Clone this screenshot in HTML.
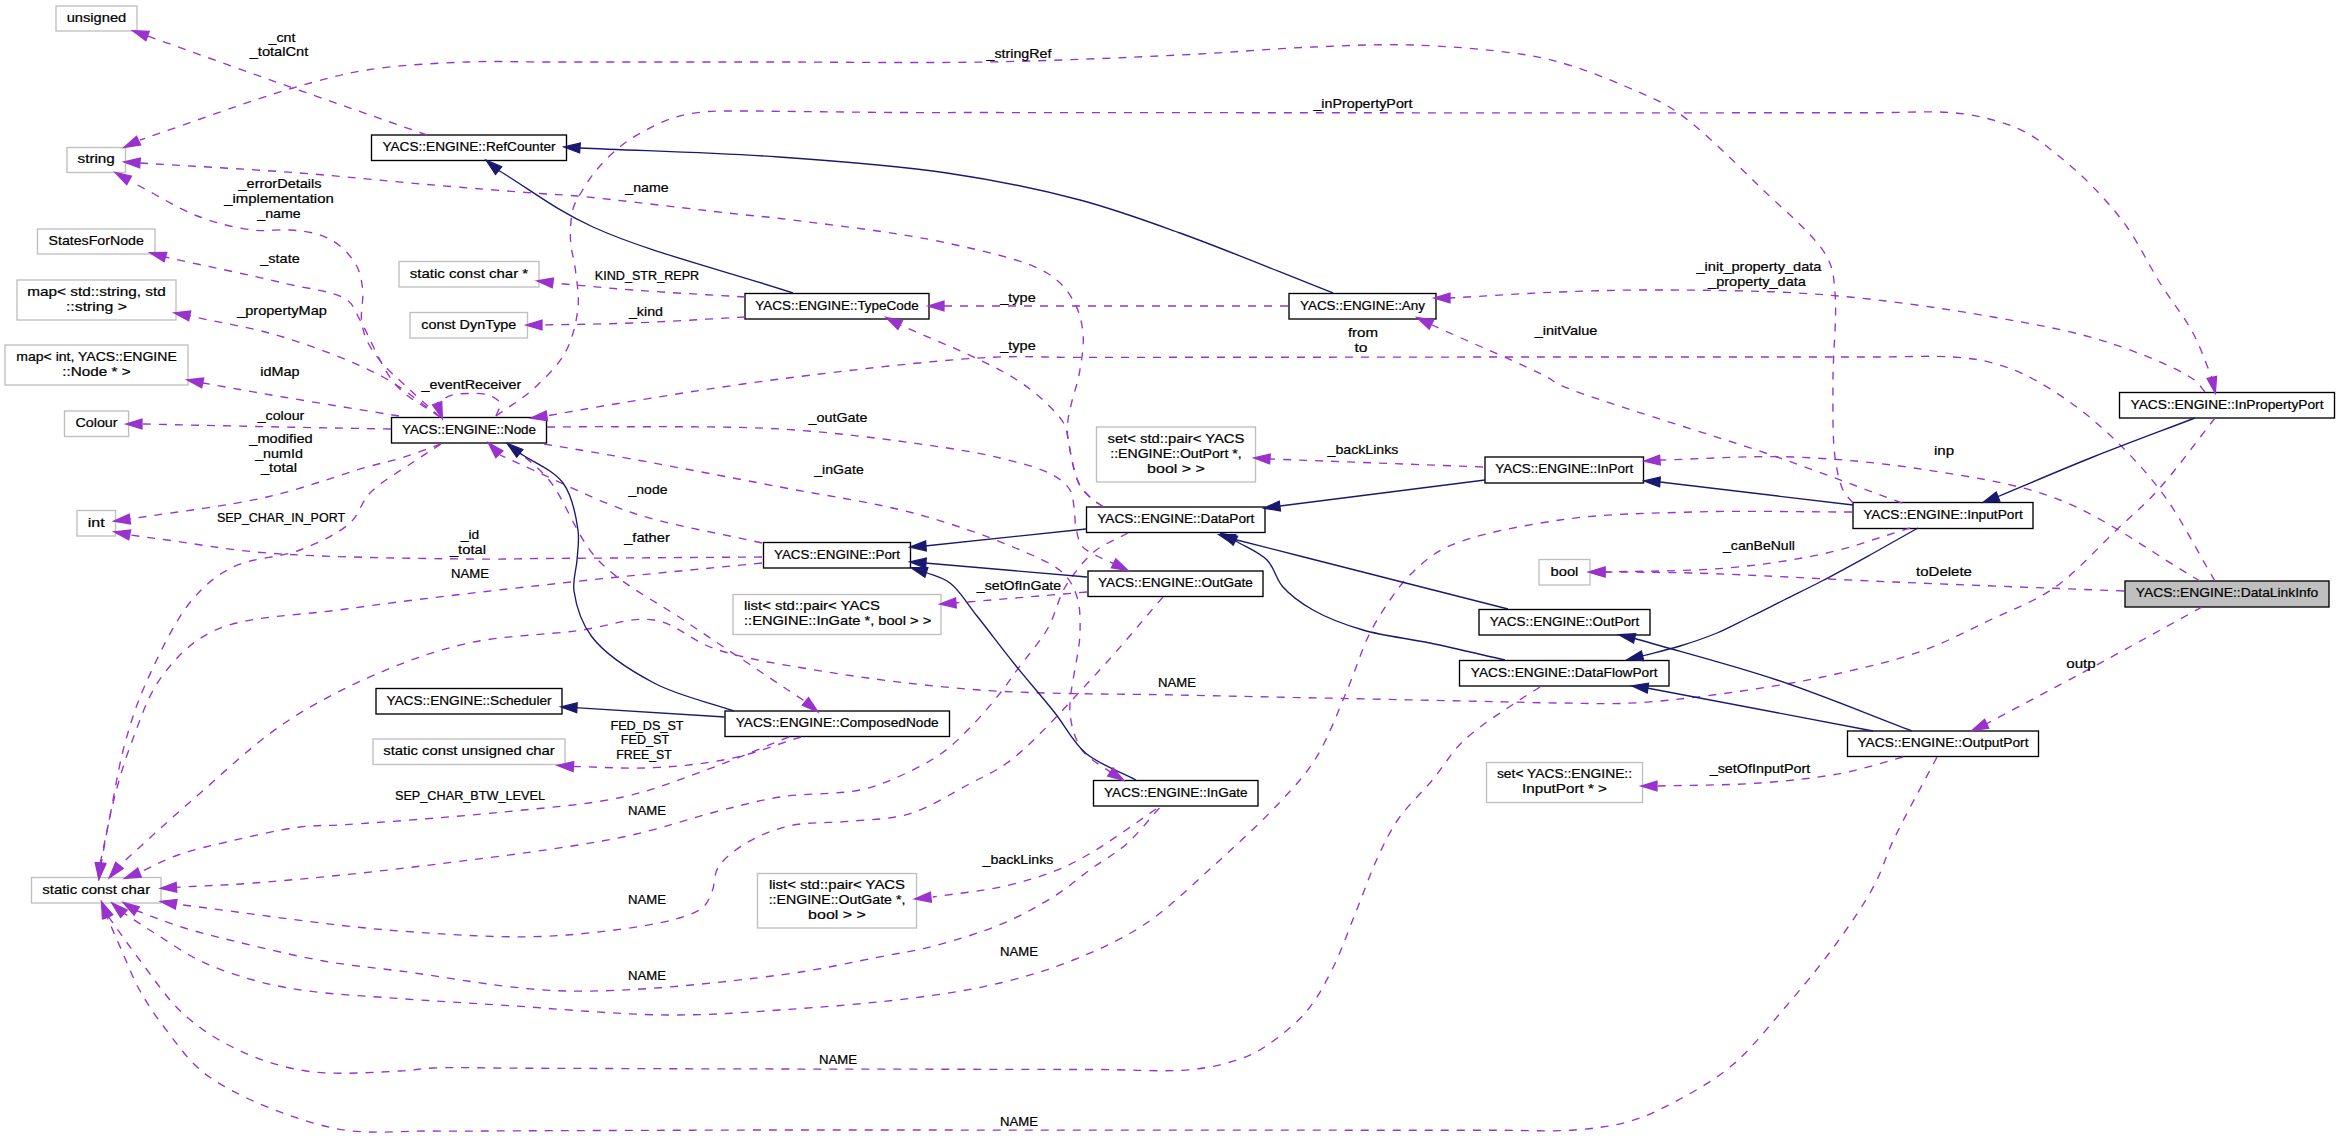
<!DOCTYPE html><html><head><meta charset="utf-8"><style>html,body{margin:0;padding:0;background:#fff;width:2340px;height:1138px;overflow:hidden}svg{display:block}text{font-family:"Liberation Sans",sans-serif;font-size:13.6px;fill:#000;stroke:#000;stroke-width:0.22px}</style></head><body>
<svg width="2340" height="1138" viewBox="0 0 2340 1138">
<rect width="2340" height="1138" fill="#fff"/>
<rect x="56.0" y="6.0" width="81.0" height="25.0" fill="#fff" stroke="#bfbfbf" stroke-width="1.35"/>
<rect x="67.0" y="147.5" width="58.5" height="25.0" fill="#fff" stroke="#bfbfbf" stroke-width="1.35"/>
<rect x="37.5" y="229.0" width="117.5" height="25.0" fill="#fff" stroke="#bfbfbf" stroke-width="1.35"/>
<rect x="399.0" y="261.5" width="140.0" height="25.5" fill="#fff" stroke="#bfbfbf" stroke-width="1.35"/>
<rect x="17.0" y="280.0" width="159.0" height="40.0" fill="#fff" stroke="#bfbfbf" stroke-width="1.35"/>
<rect x="410.0" y="312.5" width="117.5" height="25.5" fill="#fff" stroke="#bfbfbf" stroke-width="1.35"/>
<rect x="5.0" y="345.0" width="183.0" height="40.0" fill="#fff" stroke="#bfbfbf" stroke-width="1.35"/>
<rect x="64.5" y="411.0" width="64.1" height="25.5" fill="#fff" stroke="#bfbfbf" stroke-width="1.35"/>
<rect x="77.0" y="510.5" width="38.5" height="25.5" fill="#fff" stroke="#bfbfbf" stroke-width="1.35"/>
<rect x="1096.5" y="427.0" width="159.0" height="55.0" fill="#fff" stroke="#bfbfbf" stroke-width="1.35"/>
<rect x="1539.0" y="559.5" width="51.0" height="25.5" fill="#fff" stroke="#bfbfbf" stroke-width="1.35"/>
<rect x="733.0" y="594.5" width="208.0" height="40.0" fill="#fff" stroke="#bfbfbf" stroke-width="1.35"/>
<rect x="373.0" y="739.0" width="192.0" height="25.5" fill="#fff" stroke="#bfbfbf" stroke-width="1.35"/>
<rect x="31.5" y="877.5" width="129.5" height="25.5" fill="#fff" stroke="#bfbfbf" stroke-width="1.35"/>
<rect x="757.5" y="873.5" width="159.0" height="54.5" fill="#fff" stroke="#bfbfbf" stroke-width="1.35"/>
<rect x="1486.5" y="762.5" width="156.0" height="40.0" fill="#fff" stroke="#bfbfbf" stroke-width="1.35"/>
<rect x="371.5" y="135.0" width="195.0" height="25.5" fill="#fff" stroke="#000" stroke-width="1.35"/>
<rect x="745.0" y="293.5" width="184.0" height="25.5" fill="#fff" stroke="#000" stroke-width="1.35"/>
<rect x="391.5" y="417.5" width="155.0" height="25.5" fill="#fff" stroke="#000" stroke-width="1.35"/>
<rect x="763.5" y="542.5" width="147.0" height="25.5" fill="#fff" stroke="#000" stroke-width="1.35"/>
<rect x="1289.0" y="293.5" width="147.0" height="25.5" fill="#fff" stroke="#000" stroke-width="1.35"/>
<rect x="2119.5" y="392.5" width="215.0" height="25.5" fill="#fff" stroke="#000" stroke-width="1.35"/>
<rect x="1485.0" y="457.0" width="158.5" height="26.0" fill="#fff" stroke="#000" stroke-width="1.35"/>
<rect x="1086.5" y="507.0" width="178.5" height="25.5" fill="#fff" stroke="#000" stroke-width="1.35"/>
<rect x="1853.0" y="502.5" width="180.0" height="26.0" fill="#fff" stroke="#000" stroke-width="1.35"/>
<rect x="1088.0" y="571.0" width="175.0" height="25.5" fill="#fff" stroke="#000" stroke-width="1.35"/>
<rect x="376.0" y="688.5" width="186.0" height="25.5" fill="#fff" stroke="#000" stroke-width="1.35"/>
<rect x="725.0" y="711.0" width="224.5" height="25.5" fill="#fff" stroke="#000" stroke-width="1.35"/>
<rect x="1093.5" y="780.5" width="164.5" height="25.5" fill="#fff" stroke="#000" stroke-width="1.35"/>
<rect x="1479.0" y="609.5" width="171.0" height="25.5" fill="#fff" stroke="#000" stroke-width="1.35"/>
<rect x="1459.5" y="660.5" width="209.5" height="25.5" fill="#fff" stroke="#000" stroke-width="1.35"/>
<rect x="1847.5" y="731.0" width="191.0" height="25.5" fill="#fff" stroke="#000" stroke-width="1.35"/>
<rect x="2125.0" y="581.0" width="204.0" height="26.0" fill="#bfbfbf" stroke="#000" stroke-width="1.35"/>
<g fill="none" stroke-width="1.35">
<path d="M427.0,135.0 C382.3,119.3 338.6,104.1 293.0,88.0 C245.5,71.2 196.0,53.3 147.5,36.0" stroke="#9a32cd" stroke-dasharray="8,8"/>
<path d="M1853.0,503.0 C1849.7,498.7 1845.7,495.7 1843.0,490.0 C1839.1,481.8 1836.8,470.4 1835.0,457.0 C1832.3,436.8 1833.0,406.5 1833.0,380.0 C1833.0,351.9 1837.2,315.6 1835.0,293.0 C1833.6,278.3 1833.9,269.9 1827.0,257.0 C1815.8,236.1 1784.0,210.3 1760.0,187.0 C1734.2,162.0 1702.3,129.3 1677.0,112.0 C1659.1,99.8 1645.2,94.9 1627.0,87.0 C1606.3,78.1 1579.7,67.8 1559.0,62.0 C1542.4,57.3 1531.4,55.5 1513.0,53.0 C1486.1,49.3 1446.4,46.0 1413.0,45.0 C1379.7,44.0 1348.7,45.6 1313.0,47.0 C1271.8,48.7 1228.5,52.7 1180.0,55.0 C1121.7,57.8 1052.5,60.8 987.0,62.0 C919.0,63.2 831.7,62.0 779.0,62.0 C746.7,62.0 727.0,62.0 701.0,62.0 C675.0,62.0 649.0,62.0 623.0,62.0 C597.0,62.0 571.0,62.0 545.0,62.0 C519.0,62.0 494.6,60.9 467.0,62.0 C435.7,63.2 397.6,65.1 367.0,70.0 C340.3,74.3 321.9,79.6 293.0,88.0 C250.9,100.2 191.0,122.7 140.0,140.0" stroke="#9a32cd" stroke-dasharray="8,8"/>
<path d="M1103.0,506.6 C1099.0,503.7 1094.7,501.4 1091.0,498.0 C1087.0,494.4 1082.8,490.3 1080.0,485.5 C1077.1,480.6 1075.6,474.8 1074.0,469.0 C1072.3,462.9 1071.1,456.0 1070.0,450.0 C1069.0,444.7 1067.8,440.0 1067.5,435.0 C1067.2,430.0 1067.4,425.3 1068.0,420.0 C1068.7,414.0 1070.4,407.8 1072.0,401.0 C1073.9,393.0 1077.2,384.8 1079.0,375.0 C1081.2,362.8 1084.3,346.0 1083.0,333.0 C1081.8,321.2 1078.8,309.8 1073.0,300.0 C1067.0,289.7 1059.9,280.9 1047.0,273.0 C1025.5,259.9 984.9,251.4 947.0,243.0 C898.8,232.3 816.6,223.1 780.0,218.5 C762.1,216.3 757.8,216.3 740.0,214.4 C704.0,210.5 612.1,199.2 577.0,196.0 C560.3,194.5 555.7,194.7 540.0,193.5 C512.2,191.5 463.7,187.6 424.5,184.3 C383.8,180.8 344.1,176.4 300.0,173.0 C250.0,169.2 193.3,166.3 140.0,163.0" stroke="#9a32cd" stroke-dasharray="8,8"/>
<path d="M440.0,417.0 C428.6,406.7 416.2,395.8 405.8,386.0 C396.8,377.5 387.8,370.0 381.0,361.7 C375.0,354.4 369.7,346.9 366.4,339.5 C363.6,333.0 362.3,327.3 361.5,320.0 C360.6,311.1 363.7,299.4 362.7,290.0 C361.8,281.4 360.5,273.3 356.6,265.8 C352.3,257.7 344.2,249.0 337.0,243.6 C330.8,238.9 324.4,236.3 317.0,234.0 C308.8,231.5 299.7,230.7 290.0,230.0 C278.7,229.2 266.3,231.6 253.0,230.0 C236.8,228.0 218.3,223.9 200.0,217.0 C178.3,208.9 154.7,193.7 132.0,182.0" stroke="#9a32cd" stroke-dasharray="8,8"/>
<path d="M440.0,417.0 C425.3,406.3 408.6,399.3 396.0,385.0 C381.2,368.3 369.2,335.3 360.0,320.0 C354.8,311.3 354.5,305.4 347.0,300.0 C334.5,290.9 307.6,289.0 283.0,283.0 C249.7,274.9 204.3,265.7 165.0,257.0" stroke="#9a32cd" stroke-dasharray="8,8"/>
<path d="M745.0,297.0 C707.7,294.7 667.2,292.6 633.0,290.0 C604.1,287.8 579.7,285.3 553.0,283.0" stroke="#9a32cd" stroke-dasharray="8,8"/>
<path d="M440.0,417.0 C421.0,403.7 405.5,389.2 383.0,377.0 C355.0,361.9 316.1,347.3 283.0,337.0 C251.8,327.3 221.0,323.0 190.0,316.0" stroke="#9a32cd" stroke-dasharray="8,8"/>
<path d="M745.0,317.0 C707.7,319.0 668.4,321.7 633.0,323.0 C601.1,324.2 572.3,324.3 542.0,325.0" stroke="#9a32cd" stroke-dasharray="8,8"/>
<path d="M399.0,416.0 C360.3,409.7 318.1,402.9 283.0,397.0 C253.8,392.1 229.7,387.7 203.0,383.0" stroke="#9a32cd" stroke-dasharray="8,8"/>
<path d="M391.0,429.0 C354.3,428.3 319.8,427.8 281.0,427.0 C237.4,426.1 188.3,425.0 142.0,424.0" stroke="#9a32cd" stroke-dasharray="8,8"/>
<path d="M441.0,444.0 C427.7,448.7 413.9,454.1 401.0,458.0 C389.3,461.6 381.3,463.0 367.0,467.0 C342.4,473.9 303.2,488.7 267.0,497.0 C225.2,506.6 175.7,511.7 130.0,519.0" stroke="#9a32cd" stroke-dasharray="8,8"/>
<path d="M762.0,557.0 C737.4,557.2 712.8,557.3 688.2,557.5 C663.7,557.7 639.1,557.8 614.5,558.0 C589.9,558.2 565.3,558.3 540.8,558.5 C516.2,558.7 497.6,559.4 467.0,559.0 C416.6,558.4 322.1,557.4 267.0,553.0 C227.9,549.9 192.2,543.3 167.0,540.0 C151.7,538.0 142.3,536.7 130.0,535.0" stroke="#9a32cd" stroke-dasharray="8,8"/>
<path d="M496.0,416.0 C497.3,411.7 501.2,406.5 500.0,403.0 C498.7,399.4 492.7,396.6 488.0,395.0 C482.6,393.1 475.2,393.4 469.0,393.5 C462.9,393.6 456.5,393.7 451.0,395.4 C445.9,397.0 441.7,400.5 437.0,403.0" stroke="#9a32cd" stroke-dasharray="8,8"/>
<path d="M1288.0,306.0 C1259.2,306.0 1230.5,306.0 1201.8,306.0 C1173.0,306.0 1144.2,306.0 1115.5,306.0 C1086.8,306.0 1058.0,306.0 1029.2,306.0 C1000.5,306.0 971.8,306.0 943.0,306.0" stroke="#9a32cd" stroke-dasharray="8,8"/>
<path d="M1103.0,506.6 C1099.0,503.7 1094.7,501.4 1091.0,498.0 C1087.0,494.4 1082.8,490.3 1080.0,485.5 C1077.1,480.6 1075.6,474.8 1074.0,469.0 C1072.3,462.9 1071.1,456.0 1070.0,450.0 C1069.0,444.7 1068.7,439.8 1067.5,435.0 C1066.3,430.5 1065.8,426.6 1063.0,422.0 C1058.8,415.0 1049.6,406.0 1042.0,399.0 C1034.3,392.0 1026.4,386.1 1017.0,380.0 C1006.1,373.0 994.9,367.3 980.0,360.0 C958.6,349.5 926.7,336.7 900.0,325.0" stroke="#9a32cd" stroke-dasharray="8,8"/>
<path d="M2215.0,581.0 C2196.7,550.7 2180.9,517.3 2160.0,490.0 C2140.0,463.9 2115.7,439.3 2093.0,420.0 C2073.3,403.3 2051.5,388.9 2033.0,379.0 C2018.8,371.4 2006.6,366.7 1993.0,363.0 C1979.9,359.4 1968.5,358.2 1953.0,357.0 C1931.8,355.4 1902.7,357.0 1877.5,357.0 C1852.3,357.0 1827.2,357.0 1802.0,357.0 C1776.8,357.0 1751.7,357.0 1726.5,357.0 C1701.3,357.0 1676.2,357.0 1651.0,357.0 C1625.8,357.0 1600.7,357.0 1575.5,357.0 C1550.3,357.0 1525.9,357.0 1500.0,357.0 C1472.4,357.0 1443.0,357.1 1414.5,357.1 C1386.0,357.1 1357.5,357.1 1329.0,357.2 C1300.5,357.2 1272.0,357.2 1243.5,357.2 C1215.0,357.3 1186.5,357.3 1158.0,357.3 C1129.5,357.4 1101.0,357.4 1072.5,357.4 C1044.0,357.4 1021.6,355.7 987.0,357.5 C933.0,360.3 845.0,370.7 780.0,379.0 C721.8,386.4 658.2,397.0 615.0,404.0 C587.0,408.5 569.0,412.0 546.0,416.0" stroke="#9a32cd" stroke-dasharray="8,8"/>
<path d="M496.0,416.0 C508.5,406.9 522.1,399.2 533.6,388.7 C545.4,377.9 558.2,365.6 565.6,351.8 C572.8,338.4 576.5,321.8 578.0,307.6 C579.3,294.9 576.8,282.4 575.5,270.7 C574.3,260.0 570.9,250.3 570.5,240.0 C570.1,229.5 570.8,216.6 573.2,208.2 C574.9,202.2 577.5,198.8 580.6,193.5 C584.5,186.8 589.4,178.6 595.4,171.3 C602.2,163.0 611.4,153.6 620.0,146.7 C627.9,140.3 635.7,135.6 644.6,130.8 C654.1,125.7 664.9,120.4 675.3,117.2 C685.4,114.1 695.5,112.7 706.0,111.7 C717.0,110.6 728.3,111.1 740.0,111.0 C752.6,110.9 762.4,111.2 779.0,111.3 C808.2,111.6 863.1,112.3 900.0,112.5 C931.0,112.7 957.1,112.5 985.7,112.5 C1014.3,112.6 1042.9,112.6 1071.4,112.6 C1100.0,112.6 1128.6,112.6 1157.1,112.6 C1185.7,112.6 1214.3,112.7 1242.9,112.7 C1271.4,112.7 1300.0,112.7 1328.6,112.7 C1357.1,112.7 1385.7,112.7 1414.3,112.8 C1442.9,112.8 1472.3,112.8 1500.0,112.8 C1526.0,112.8 1550.3,112.8 1575.5,112.8 C1600.7,112.8 1625.8,112.8 1651.0,112.8 C1676.2,112.8 1701.3,112.8 1726.5,112.8 C1751.7,112.7 1776.8,112.7 1802.0,112.7 C1827.2,112.7 1852.3,112.7 1877.5,112.7 C1902.7,112.7 1931.9,110.8 1953.0,112.7 C1968.5,114.1 1980.4,116.5 1993.0,120.0 C2005.0,123.3 2016.1,127.1 2027.0,133.0 C2038.5,139.2 2049.2,148.2 2060.0,157.0 C2071.3,166.2 2082.3,175.9 2093.0,187.0 C2104.6,199.0 2116.4,212.0 2127.0,227.0 C2138.8,243.6 2148.8,265.0 2160.0,283.0 C2170.8,300.3 2184.1,316.4 2193.0,333.0 C2201.0,348.0 2205.7,363.0 2212.0,378.0" stroke="#9a32cd" stroke-dasharray="8,8"/>
<path d="M2205.0,392.0 C2201.0,387.7 2199.6,383.6 2193.0,379.0 C2177.9,368.3 2138.2,352.0 2107.0,342.0 C2072.2,330.8 2034.7,324.3 1993.0,317.0 C1943.0,308.2 1882.5,299.5 1827.0,295.0 C1771.5,290.5 1708.6,290.2 1660.0,290.0 C1622.4,289.8 1594.1,290.7 1560.0,292.0 C1524.2,293.3 1486.7,296.0 1450.0,298.0" stroke="#9a32cd" stroke-dasharray="8,8"/>
<path d="M1902.0,503.0 C1860.3,487.7 1824.5,473.6 1777.0,457.0 C1714.7,435.2 1588.2,398.1 1560.0,385.0 C1552.7,381.6 1553.7,380.5 1547.0,377.0 C1527.9,366.8 1470.3,342.3 1432.0,325.0" stroke="#9a32cd" stroke-dasharray="8,8"/>
<path d="M762.0,543.0 C719.0,533.0 672.7,526.0 633.0,513.0 C597.0,501.2 557.3,480.7 533.0,470.0 C519.0,463.8 511.0,460.0 500.0,455.0" stroke="#9a32cd" stroke-dasharray="8,8"/>
<path d="M547.0,427.0 C569.0,426.9 586.0,426.6 613.0,426.7 C656.0,426.9 727.6,425.9 780.0,429.0 C826.9,431.8 873.4,437.5 913.0,443.0 C945.1,447.5 974.8,451.8 1000.0,458.0 C1020.0,462.9 1040.7,468.0 1053.0,475.0 C1060.9,479.5 1066.5,484.2 1070.0,490.0 C1073.0,495.1 1073.0,501.0 1074.0,507.0 C1075.1,513.6 1074.6,521.3 1076.0,528.0 C1077.3,534.3 1078.4,541.3 1082.0,546.0 C1085.5,550.6 1091.6,553.0 1097.0,556.0 C1102.6,559.1 1109.0,561.3 1115.0,564.0" stroke="#9a32cd" stroke-dasharray="8,8"/>
<path d="M544.0,444.0 C567.0,447.9 585.0,450.6 613.0,455.6 C656.6,463.4 727.5,476.9 780.0,487.0 C826.9,496.0 872.2,502.1 913.0,513.0 C949.1,522.6 985.7,535.4 1013.0,547.0 C1032.9,555.5 1052.2,562.7 1063.0,573.0 C1070.6,580.2 1074.1,587.8 1077.0,597.0 C1080.3,607.5 1080.3,618.7 1080.0,633.0 C1079.6,654.4 1068.3,692.1 1070.0,713.0 C1071.1,726.9 1075.6,739.1 1080.0,747.0 C1082.9,752.1 1085.7,754.3 1090.0,758.0 C1095.7,762.9 1104.7,768.0 1112.0,773.0" stroke="#9a32cd" stroke-dasharray="8,8"/>
<path d="M513.0,447.0 C525.0,458.0 537.1,465.5 549.0,480.0 C565.5,500.0 576.4,537.0 598.0,560.0 C621.0,584.5 658.5,602.8 685.0,621.0 C707.1,636.1 725.7,648.4 746.0,662.0 C766.1,675.4 786.0,688.7 806.0,702.0" stroke="#9a32cd" stroke-dasharray="8,8"/>
<path d="M1087.0,592.0 L955.0,603.0" stroke="#9a32cd" stroke-dasharray="8,8"/>
<path d="M2200.0,581.0 C2153.3,554.0 2107.5,518.6 2060.0,500.0 C2016.4,482.9 1971.6,477.2 1927.0,470.0 C1882.6,462.9 1837.6,458.7 1793.0,457.0 C1748.6,455.4 1704.3,459.0 1660.0,460.0" stroke="#9a32cd" stroke-dasharray="8,8"/>
<path d="M1483.0,467.0 L1270.0,459.0" stroke="#9a32cd" stroke-dasharray="8,8"/>
<path d="M1910.0,528.0 C1882.3,536.3 1856.2,546.4 1827.0,553.0 C1795.5,560.1 1762.1,564.8 1727.0,568.0 C1688.5,571.5 1645.7,570.7 1605.0,572.0" stroke="#9a32cd" stroke-dasharray="8,8"/>
<path d="M2124.0,591.0 C2047.0,588.0 1967.2,585.1 1893.0,582.0 C1823.9,579.1 1746.2,574.5 1693.0,573.0 C1657.7,572.0 1634.3,572.3 1605.0,572.0" stroke="#9a32cd" stroke-dasharray="8,8"/>
<path d="M2202.0,607.0 C2165.7,627.0 2129.2,647.4 2093.0,667.0 C2057.2,686.4 2021.7,705.0 1986.0,724.0" stroke="#9a32cd" stroke-dasharray="8,8"/>
<path d="M1903.0,757.0 C1883.0,762.3 1864.8,768.8 1843.0,773.0 C1817.7,777.9 1789.2,780.8 1760.0,783.0 C1727.6,785.4 1691.3,785.0 1657.0,786.0" stroke="#9a32cd" stroke-dasharray="8,8"/>
<path d="M1156.0,809.0 C1146.0,816.0 1136.4,822.9 1126.0,830.0 C1114.8,837.6 1102.9,846.1 1091.0,853.0 C1079.4,859.7 1068.9,865.5 1055.7,870.7 C1040.1,876.9 1022.0,882.3 1003.0,886.5 C981.4,891.3 956.1,893.5 932.7,897.0" stroke="#9a32cd" stroke-dasharray="8,8"/>
<path d="M801.0,737.0 C777.6,744.2 755.0,753.4 730.8,758.5 C706.0,763.7 679.9,766.3 653.8,767.7 C627.0,769.1 599.3,766.9 572.0,766.5" stroke="#9a32cd" stroke-dasharray="8,8"/>
<path d="M441.0,444.0 C431.9,449.9 423.9,454.9 413.8,461.8 C400.9,470.6 381.0,481.6 370.0,493.0 C361.0,502.3 359.6,514.3 350.0,523.0 C338.0,534.0 318.4,542.8 300.0,550.0 C279.7,557.9 251.8,557.6 233.0,567.0 C216.6,575.2 204.7,584.9 192.0,600.0 C174.9,620.3 157.7,656.9 146.0,683.0 C136.3,704.6 130.6,722.8 124.6,744.6 C118.0,768.5 113.5,799.2 109.0,821.0 C105.6,837.4 103.0,849.7 100.0,864.0" stroke="#9a32cd" stroke-dasharray="8,8"/>
<path d="M762.0,563.0 C695.2,569.7 629.5,575.5 561.5,583.0 C490.9,590.8 409.0,600.0 346.0,609.0 C296.5,616.1 246.3,615.4 213.8,630.8 C190.3,641.9 175.2,658.4 161.5,677.0 C147.3,696.2 139.2,722.3 130.8,744.6 C123.0,765.3 117.3,785.7 112.3,806.0 C107.5,825.5 104.8,844.7 101.0,864.0" stroke="#9a32cd" stroke-dasharray="8,8"/>
<path d="M789.0,737.0 C759.3,748.8 728.8,762.0 700.0,772.3 C673.6,781.8 652.0,790.6 623.0,797.0 C587.1,804.9 543.4,807.9 500.0,812.3 C451.6,817.2 382.3,822.2 346.0,824.6 C326.2,825.9 316.8,824.9 300.0,827.0 C279.2,829.6 252.4,836.0 231.0,841.0 C212.1,845.4 194.0,849.3 178.0,855.0 C163.9,860.0 152.3,866.7 139.5,872.5" stroke="#9a32cd" stroke-dasharray="8,8"/>
<path d="M2215.0,418.0 C2196.0,442.0 2176.0,470.2 2158.0,490.0 C2144.0,505.4 2133.0,514.3 2118.0,528.5 C2099.2,546.3 2076.5,572.4 2054.0,588.0 C2033.6,602.1 2011.8,609.6 1990.0,620.0 C1967.8,630.6 1945.7,642.4 1922.0,651.0 C1897.5,659.9 1870.8,666.0 1845.0,672.0 C1819.4,678.0 1797.0,682.4 1768.0,687.0 C1730.8,692.9 1677.7,700.2 1640.0,702.6 C1610.3,704.5 1586.4,703.2 1560.0,703.0 C1534.2,702.8 1508.9,701.9 1483.4,701.4 C1457.9,700.9 1432.3,700.3 1406.8,699.8 C1381.3,699.3 1355.7,698.7 1330.2,698.2 C1304.7,697.7 1279.1,697.1 1253.6,696.6 C1228.1,696.1 1208.5,695.7 1177.0,695.0 C1126.6,693.8 1042.2,694.5 980.0,690.0 C923.8,685.9 867.5,678.6 820.0,670.8 C781.3,664.5 745.2,659.0 715.4,649.0 C691.6,641.0 676.0,623.4 653.8,620.0 C630.1,616.4 604.8,627.3 577.0,630.8 C544.1,635.0 503.2,635.4 469.0,643.0 C436.7,650.1 407.2,660.8 377.0,673.8 C345.7,687.3 314.4,703.0 284.6,723.0 C252.7,744.5 221.1,775.1 192.3,800.0 C166.2,822.6 143.4,844.0 119.0,866.0" stroke="#9a32cd" stroke-dasharray="8,8"/>
<path d="M1128.0,533.0 C1117.0,539.0 1104.3,543.7 1095.0,551.0 C1086.6,557.6 1079.6,566.7 1074.0,574.0 C1069.5,579.9 1066.6,584.0 1063.0,591.0 C1057.9,600.8 1054.8,615.8 1048.0,628.0 C1040.3,641.7 1026.6,656.9 1018.0,668.6 C1011.5,677.5 1007.5,683.8 1001.0,692.0 C993.2,701.9 983.7,713.4 974.0,723.5 C964.1,733.8 954.0,744.4 942.0,753.0 C929.4,762.0 914.1,769.7 900.0,776.0 C886.7,781.9 875.9,786.6 860.0,790.0 C838.1,794.7 805.2,793.0 780.0,797.0 C757.1,800.6 738.5,806.1 715.0,812.0 C686.9,819.1 660.4,829.3 623.0,837.0 C566.5,848.6 473.5,859.7 407.7,867.7 C352.2,874.4 296.7,879.7 253.8,883.0 C223.1,885.4 201.1,885.9 174.7,887.4" stroke="#9a32cd" stroke-dasharray="8,8"/>
<path d="M1163.0,597.0 C1141.0,622.3 1120.9,647.2 1097.0,673.0 C1070.6,701.4 1035.7,741.0 1011.0,760.0 C995.5,771.9 984.5,775.8 969.2,784.0 C951.2,793.7 929.9,807.6 909.4,813.8 C890.0,819.7 869.6,819.3 849.6,821.3 C829.7,823.3 807.9,821.6 789.7,825.8 C773.4,829.6 757.5,836.1 745.0,843.8 C734.2,850.5 723.4,858.8 718.0,867.7 C713.5,875.0 715.2,884.4 712.0,891.6 C709.0,898.3 707.9,904.3 700.0,909.6 C680.2,922.7 614.1,931.1 567.0,935.0 C514.7,939.3 459.7,935.3 400.0,931.0 C330.4,926.0 249.8,913.0 174.7,904.0" stroke="#9a32cd" stroke-dasharray="8,8"/>
<path d="M1159.4,808.0 C1148.3,820.1 1137.9,834.0 1126.0,844.4 C1115.0,854.1 1102.6,860.6 1091.0,869.0 C1079.2,877.5 1069.0,886.9 1055.7,895.3 C1040.2,905.1 1022.2,915.2 1003.0,923.4 C981.6,932.5 954.6,940.6 932.7,946.3 C914.0,951.2 900.4,952.9 880.0,956.8 C852.0,962.1 819.7,969.9 780.0,975.0 C722.4,982.4 633.6,992.5 567.0,991.0 C507.9,989.7 444.9,976.6 400.0,971.0 C369.6,967.2 349.9,965.6 323.6,961.0 C295.2,956.0 261.2,947.7 235.7,941.5 C215.8,936.7 200.0,932.8 183.0,927.5 C166.8,922.4 151.7,916.2 136.0,910.5" stroke="#9a32cd" stroke-dasharray="8,8"/>
<path d="M1852.0,512.0 C1799.0,512.0 1743.6,510.5 1693.0,512.0 C1646.7,513.4 1602.3,513.7 1560.0,520.0 C1520.5,525.9 1473.5,534.5 1447.0,547.0 C1430.2,554.9 1420.0,565.3 1410.0,575.0 C1401.7,583.1 1396.4,590.7 1390.0,600.0 C1382.7,610.5 1375.5,621.8 1369.0,635.0 C1361.3,650.6 1356.0,669.2 1348.0,688.0 C1338.7,709.8 1328.4,738.0 1316.0,758.0 C1305.3,775.2 1294.4,786.5 1280.0,802.0 C1261.8,821.7 1236.7,844.9 1214.0,865.4 C1191.2,885.9 1168.1,908.9 1143.6,925.0 C1121.0,939.9 1097.4,950.3 1073.3,960.0 C1049.5,969.6 1025.7,976.8 1000.0,983.0 C972.5,989.7 945.2,993.8 913.0,998.0 C873.4,1003.2 822.6,1007.1 780.0,1010.0 C740.8,1012.6 708.3,1015.3 667.0,1015.0 C616.7,1014.6 548.6,1008.0 500.0,1005.0 C462.4,1002.7 432.8,1001.0 400.0,998.6 C368.2,996.2 332.8,994.5 306.0,990.7 C285.7,987.8 270.4,984.9 253.0,980.0 C235.3,975.0 216.9,968.8 200.6,961.0 C184.9,953.5 170.4,943.1 156.7,934.5 C144.4,926.8 133.6,919.5 122.0,912.0" stroke="#9a32cd" stroke-dasharray="8,8"/>
<path d="M1540.0,687.0 C1532.2,692.0 1525.8,695.7 1516.5,702.0 C1502.3,711.7 1478.3,726.6 1463.7,740.6 C1450.9,752.9 1443.2,767.0 1432.4,780.0 C1421.3,793.3 1407.4,805.8 1398.0,819.5 C1389.3,832.2 1383.6,844.7 1377.0,859.0 C1369.5,875.1 1363.3,893.7 1356.0,911.7 C1348.3,930.6 1340.9,952.2 1332.0,969.7 C1324.1,985.3 1316.8,999.4 1306.0,1012.0 C1294.9,1024.9 1278.0,1038.0 1266.0,1046.0 C1257.5,1051.7 1252.1,1054.5 1242.6,1058.0 C1229.5,1062.8 1212.7,1067.2 1193.6,1069.4 C1167.5,1072.4 1130.0,1069.5 1100.0,1069.5 C1072.3,1069.5 1046.7,1069.4 1020.0,1069.4 C993.3,1069.3 966.7,1069.3 940.0,1069.2 C913.3,1069.2 886.7,1069.2 860.0,1069.1 C833.3,1069.1 807.2,1069.1 780.0,1069.0 C751.7,1068.9 722.2,1068.8 693.2,1068.8 C664.3,1068.7 635.4,1068.6 606.5,1068.5 C577.6,1068.4 548.7,1068.3 519.8,1068.2 C490.8,1068.2 455.0,1067.0 433.0,1068.0 C419.4,1068.6 413.8,1070.4 400.0,1071.0 C376.7,1072.1 334.7,1075.5 306.0,1071.0 C280.5,1067.1 256.8,1058.8 235.7,1048.7 C216.1,1039.3 198.8,1028.0 183.0,1013.6 C166.4,998.4 152.2,976.3 139.0,959.0 C127.5,944.0 118.3,930.3 108.0,916.0" stroke="#9a32cd" stroke-dasharray="8,8"/>
<path d="M1937.0,757.0 C1922.3,785.0 1904.2,817.3 1893.0,841.0 C1885.1,857.8 1882.6,869.6 1874.4,885.0 C1864.5,903.6 1850.3,924.3 1836.0,944.0 C1820.6,965.3 1802.1,987.6 1784.6,1008.0 C1767.7,1027.7 1751.2,1049.1 1733.0,1064.6 C1716.8,1078.4 1699.4,1088.5 1682.0,1098.0 C1665.3,1107.1 1648.7,1115.7 1630.8,1121.0 C1612.7,1126.4 1594.3,1128.4 1574.0,1130.0 C1551.0,1131.8 1525.1,1130.2 1500.0,1130.2 C1473.9,1130.2 1446.7,1130.2 1420.0,1130.2 C1393.3,1130.2 1366.7,1130.2 1340.0,1130.2 C1313.3,1130.1 1286.7,1130.1 1260.0,1130.1 C1233.3,1130.1 1206.7,1130.1 1180.0,1130.1 C1153.3,1130.1 1126.7,1130.1 1100.0,1130.1 C1073.3,1130.1 1046.7,1130.1 1020.0,1130.1 C993.3,1130.1 966.7,1130.1 940.0,1130.0 C913.3,1130.0 886.7,1130.0 860.0,1130.0 C833.3,1130.0 807.2,1130.0 780.0,1130.0 C751.7,1130.0 722.2,1130.2 693.2,1130.2 C664.3,1130.3 635.4,1130.4 606.5,1130.5 C577.6,1130.6 548.7,1130.7 519.8,1130.8 C490.8,1130.8 462.9,1131.4 433.0,1131.0 C400.8,1130.6 367.4,1135.4 333.0,1128.0 C293.2,1119.5 238.7,1097.5 209.4,1077.0 C189.0,1062.7 177.8,1044.7 165.5,1029.0 C154.9,1015.5 146.5,1002.6 139.0,989.0 C132.0,976.2 127.0,962.5 121.5,950.0 C116.4,938.6 111.8,928.0 107.0,917.0" stroke="#9a32cd" stroke-dasharray="8,8"/>
<path d="M793.0,293.0 C726.3,271.0 646.3,251.4 593.0,227.0 C554.3,209.3 529.7,189.0 498.0,170.0" stroke="#191970"/>
<path d="M1333.0,293.0 C1282.0,273.0 1225.8,249.5 1180.0,233.0 C1143.3,219.8 1116.0,209.6 1080.0,200.0 C1039.1,189.1 994.1,180.0 947.0,173.0 C894.5,165.2 837.4,161.1 779.0,157.0 C715.5,152.5 646.3,151.0 580.0,148.0" stroke="#191970"/>
<path d="M734.0,711.0 C707.3,701.7 678.1,695.8 654.0,683.0 C631.0,670.8 605.4,654.5 592.0,637.0 C581.3,623.0 576.0,605.0 574.0,591.0 C572.4,579.9 576.3,570.3 577.0,560.0 C577.7,549.9 579.5,541.0 578.0,530.0 C576.0,515.9 572.5,495.8 563.0,483.0 C553.0,469.5 533.0,462.3 518.0,452.0" stroke="#191970"/>
<path d="M725.0,717.0 L575.0,707.7" stroke="#191970"/>
<path d="M1086.0,529.0 L925.0,546.0" stroke="#191970"/>
<path d="M1087.0,577.0 L925.0,563.0" stroke="#191970"/>
<path d="M1136.0,780.0 C1119.2,771.0 1099.3,764.7 1085.5,753.0 C1072.5,741.9 1065.6,726.3 1054.6,712.5 C1042.6,697.4 1028.8,681.9 1016.0,666.0 C1002.9,649.7 988.9,630.9 977.0,616.0 C967.3,603.8 959.8,590.4 950.0,583.0 C942.2,577.0 933.3,575.7 925.0,572.0" stroke="#191970"/>
<path d="M1485.0,480.0 L1280.0,506.0" stroke="#191970"/>
<path d="M1853.0,505.0 L1660.0,482.0" stroke="#191970"/>
<path d="M2195.0,418.0 C2161.0,431.0 2126.4,443.7 2093.0,457.0 C2060.4,470.0 2029.0,483.7 1997.0,497.0" stroke="#191970"/>
<path d="M1508.0,609.0 C1485.1,603.2 1462.2,597.3 1439.2,591.5 C1416.3,585.7 1393.4,579.8 1370.5,574.0 C1347.6,568.2 1324.7,562.3 1301.8,556.5 C1278.8,550.7 1255.9,544.8 1233.0,539.0" stroke="#191970"/>
<path d="M1505.0,660.0 C1480.0,654.3 1454.3,648.1 1430.0,643.0 C1407.1,638.2 1383.4,636.0 1363.0,630.0 C1344.8,624.7 1327.1,618.0 1313.0,610.0 C1301.2,603.3 1290.8,595.8 1283.0,587.0 C1275.9,579.0 1274.5,567.6 1267.0,560.0 C1258.7,551.6 1245.0,546.7 1234.0,540.0" stroke="#191970"/>
<path d="M1918.0,528.0 C1902.0,537.0 1886.0,546.1 1870.0,555.0 C1854.0,563.8 1837.1,573.1 1822.0,581.0 C1808.7,587.9 1796.3,593.8 1784.0,600.0 C1772.4,605.8 1761.3,611.5 1750.0,617.0 C1738.9,622.4 1728.5,628.2 1717.0,633.0 C1705.2,637.9 1692.5,642.2 1680.0,646.0 C1667.5,649.8 1654.7,652.7 1642.0,656.0" stroke="#191970"/>
<path d="M1912.0,731.0 C1867.0,714.0 1823.0,695.4 1777.0,680.0 C1730.1,664.3 1681.0,652.0 1633.0,638.0" stroke="#191970"/>
<path d="M1873.0,731.0 L1647.0,688.0" stroke="#191970"/>
</g>
<polygon points="132.3,30.6 149.2,31.4 145.9,40.6" fill="#9a32cd" stroke="#9a32cd" stroke-width="1.3"/>
<polygon points="123.9,147.5 136.5,136.2 140.7,145.1" fill="#9a32cd" stroke="#9a32cd" stroke-width="1.3"/>
<polygon points="123.8,161.9 140.3,158.1 139.6,167.9" fill="#9a32cd" stroke="#9a32cd" stroke-width="1.3"/>
<polygon points="115.0,172.4 131.5,176.1 126.7,184.6" fill="#9a32cd" stroke="#9a32cd" stroke-width="1.3"/>
<polygon points="149.8,252.7 166.8,252.4 164.1,261.8" fill="#9a32cd" stroke="#9a32cd" stroke-width="1.3"/>
<polygon points="536.8,280.8 553.5,278.1 552.2,287.8" fill="#9a32cd" stroke="#9a32cd" stroke-width="1.3"/>
<polygon points="173.8,312.8 190.7,311.1 188.7,320.7" fill="#9a32cd" stroke="#9a32cd" stroke-width="1.3"/>
<polygon points="525.8,325.0 542.0,320.1 542.0,329.9" fill="#9a32cd" stroke="#9a32cd" stroke-width="1.3"/>
<polygon points="186.8,379.8 203.7,378.1 201.7,387.7" fill="#9a32cd" stroke="#9a32cd" stroke-width="1.3"/>
<polygon points="125.8,424.0 142.0,419.1 142.0,428.9" fill="#9a32cd" stroke="#9a32cd" stroke-width="1.3"/>
<polygon points="113.8,521.2 129.2,514.2 130.5,523.9" fill="#9a32cd" stroke="#9a32cd" stroke-width="1.3"/>
<polygon points="113.8,531.8 130.7,530.1 128.7,539.7" fill="#9a32cd" stroke="#9a32cd" stroke-width="1.3"/>
<polygon points="442.4,418.6 432.5,404.9 441.7,401.7" fill="#9a32cd" stroke="#9a32cd" stroke-width="1.3"/>
<polygon points="927.8,306.0 944.0,301.1 944.0,310.9" fill="#9a32cd" stroke="#9a32cd" stroke-width="1.3"/>
<polygon points="885.9,317.4 902.5,320.8 897.9,329.4" fill="#9a32cd" stroke="#9a32cd" stroke-width="1.3"/>
<polygon points="530.8,418.2 546.2,411.0 547.5,420.7" fill="#9a32cd" stroke="#9a32cd" stroke-width="1.3"/>
<polygon points="2215.3,393.2 2207.1,378.4 2216.6,376.3" fill="#9a32cd" stroke="#9a32cd" stroke-width="1.3"/>
<polygon points="1433.8,298.0 1450.0,293.1 1450.0,302.9" fill="#9a32cd" stroke="#9a32cd" stroke-width="1.3"/>
<polygon points="1416.9,317.5 1433.6,320.3 1429.2,329.1" fill="#9a32cd" stroke="#9a32cd" stroke-width="1.3"/>
<polygon points="488.2,442.6 502.9,451.0 495.8,457.7" fill="#9a32cd" stroke="#9a32cd" stroke-width="1.3"/>
<polygon points="1128.1,570.5 1111.4,567.7 1115.8,558.9" fill="#9a32cd" stroke="#9a32cd" stroke-width="1.3"/>
<polygon points="1124.0,780.6 1107.7,776.1 1113.0,767.8" fill="#9a32cd" stroke="#9a32cd" stroke-width="1.3"/>
<polygon points="817.9,711.8 802.3,705.3 808.5,697.7" fill="#9a32cd" stroke="#9a32cd" stroke-width="1.3"/>
<polygon points="939.8,604.1 955.6,598.0 956.3,607.8" fill="#9a32cd" stroke="#9a32cd" stroke-width="1.3"/>
<polygon points="1643.8,461.1 1659.6,455.1 1660.3,464.9" fill="#9a32cd" stroke="#9a32cd" stroke-width="1.3"/>
<polygon points="1253.8,457.9 1270.3,454.1 1269.6,463.9" fill="#9a32cd" stroke="#9a32cd" stroke-width="1.3"/>
<polygon points="1588.8,572.0 1605.0,567.1 1605.0,576.9" fill="#9a32cd" stroke="#9a32cd" stroke-width="1.3"/>
<polygon points="1588.8,572.0 1605.0,567.1 1605.0,576.9" fill="#9a32cd" stroke="#9a32cd" stroke-width="1.3"/>
<polygon points="1971.9,730.5 1984.6,719.3 1988.7,728.2" fill="#9a32cd" stroke="#9a32cd" stroke-width="1.3"/>
<polygon points="1640.8,786.0 1657.0,781.1 1657.0,790.9" fill="#9a32cd" stroke="#9a32cd" stroke-width="1.3"/>
<polygon points="914.8,898.9 930.4,892.3 931.4,902.1" fill="#9a32cd" stroke="#9a32cd" stroke-width="1.3"/>
<polygon points="557.3,765.4 573.8,761.7 573.1,771.5" fill="#9a32cd" stroke="#9a32cd" stroke-width="1.3"/>
<polygon points="98.9,879.2 95.2,862.7 105.0,863.4" fill="#9a32cd" stroke="#9a32cd" stroke-width="1.3"/>
<polygon points="98.8,879.2 96.3,862.5 106.0,863.8" fill="#9a32cd" stroke="#9a32cd" stroke-width="1.3"/>
<polygon points="124.4,878.4 137.7,868.0 141.3,877.1" fill="#9a32cd" stroke="#9a32cd" stroke-width="1.3"/>
<polygon points="109.2,877.9 115.7,862.3 123.3,868.5" fill="#9a32cd" stroke="#9a32cd" stroke-width="1.3"/>
<polygon points="160.3,888.4 176.1,882.4 176.8,892.2" fill="#9a32cd" stroke="#9a32cd" stroke-width="1.3"/>
<polygon points="160.3,901.3 177.1,899.5 175.3,909.1" fill="#9a32cd" stroke="#9a32cd" stroke-width="1.3"/>
<polygon points="123.0,902.4 139.3,906.8 134.1,915.1" fill="#9a32cd" stroke="#9a32cd" stroke-width="1.3"/>
<polygon points="111.8,902.9 127.2,910.0 120.6,917.3" fill="#9a32cd" stroke="#9a32cd" stroke-width="1.3"/>
<polygon points="101.5,901.9 112.7,914.6 103.8,918.7" fill="#9a32cd" stroke="#9a32cd" stroke-width="1.3"/>
<polygon points="101.6,901.9 111.7,915.5 102.4,918.8" fill="#9a32cd" stroke="#9a32cd" stroke-width="1.3"/>
<polygon points="486.1,160.2 501.7,166.7 495.5,174.3" fill="#191970" stroke="#191970" stroke-width="1.3"/>
<polygon points="563.8,146.9 580.3,143.1 579.6,152.9" fill="#191970" stroke="#191970" stroke-width="1.3"/>
<polygon points="507.1,443.3 522.8,449.5 516.7,457.2" fill="#191970" stroke="#191970" stroke-width="1.3"/>
<polygon points="560.8,706.9 577.2,702.9 576.7,712.7" fill="#191970" stroke="#191970" stroke-width="1.3"/>
<polygon points="909.8,547.1 925.6,541.0 926.3,550.8" fill="#191970" stroke="#191970" stroke-width="1.3"/>
<polygon points="909.8,561.9 926.3,558.2 925.6,568.0" fill="#191970" stroke="#191970" stroke-width="1.3"/>
<polygon points="910.9,567.6 927.8,567.7 924.9,577.1" fill="#191970" stroke="#191970" stroke-width="1.3"/>
<polygon points="1263.8,508.2 1279.2,501.2 1280.5,510.9" fill="#191970" stroke="#191970" stroke-width="1.3"/>
<polygon points="1643.8,480.9 1660.3,477.1 1659.6,486.9" fill="#191970" stroke="#191970" stroke-width="1.3"/>
<polygon points="1982.9,502.4 1996.2,492.0 1999.8,501.2" fill="#191970" stroke="#191970" stroke-width="1.3"/>
<polygon points="1218.9,534.6 1235.8,534.7 1232.9,544.1" fill="#191970" stroke="#191970" stroke-width="1.3"/>
<polygon points="1220.9,533.5 1237.6,536.3 1233.2,545.1" fill="#191970" stroke="#191970" stroke-width="1.3"/>
<polygon points="1626.8,659.8 1641.4,651.1 1643.7,660.6" fill="#191970" stroke="#191970" stroke-width="1.3"/>
<polygon points="1618.8,634.7 1635.7,633.6 1633.5,643.1" fill="#191970" stroke="#191970" stroke-width="1.3"/>
<polygon points="1631.8,685.8 1648.5,683.3 1647.2,693.0" fill="#191970" stroke="#191970" stroke-width="1.3"/>
<text x="96.5" y="21.9" text-anchor="middle" textLength="59.6" lengthAdjust="spacingAndGlyphs">unsigned</text>
<text x="96.2" y="163.4" text-anchor="middle" textLength="37.3" lengthAdjust="spacingAndGlyphs">string</text>
<text x="96.2" y="244.9" text-anchor="middle" textLength="95.4" lengthAdjust="spacingAndGlyphs">StatesForNode</text>
<text x="469.0" y="277.6" text-anchor="middle" textLength="118.4" lengthAdjust="spacingAndGlyphs">static const char *</text>
<text x="96.5" y="295.9" text-anchor="middle" textLength="138.4" lengthAdjust="spacingAndGlyphs">map&lt; std::string, std</text>
<text x="96.5" y="310.9" text-anchor="middle" textLength="61.1" lengthAdjust="spacingAndGlyphs">::string &gt;</text>
<text x="468.8" y="328.6" text-anchor="middle" textLength="95.1" lengthAdjust="spacingAndGlyphs">const DynType</text>
<text x="96.5" y="360.9" text-anchor="middle" textLength="160.5" lengthAdjust="spacingAndGlyphs">map&lt; int, YACS::ENGINE</text>
<text x="96.5" y="375.9" text-anchor="middle" textLength="68.3" lengthAdjust="spacingAndGlyphs">::Node * &gt;</text>
<text x="96.5" y="427.1" text-anchor="middle" textLength="42.2" lengthAdjust="spacingAndGlyphs">Colour</text>
<text x="96.2" y="526.6" text-anchor="middle" textLength="16.9" lengthAdjust="spacingAndGlyphs">int</text>
<text x="1176.0" y="442.9" text-anchor="middle" textLength="136.8" lengthAdjust="spacingAndGlyphs">set&lt; std::pair&lt; YACS</text>
<text x="1176.0" y="457.9" text-anchor="middle" textLength="131.4" lengthAdjust="spacingAndGlyphs">::ENGINE::OutPort *,</text>
<text x="1176.0" y="472.9" text-anchor="middle" textLength="57.8" lengthAdjust="spacingAndGlyphs">bool &gt; &gt;</text>
<text x="1564.5" y="575.6" text-anchor="middle" textLength="27.8" lengthAdjust="spacingAndGlyphs">bool</text>
<text x="744.0" y="610.4" textLength="136.0" lengthAdjust="spacingAndGlyphs">list&lt; std::pair&lt; YACS</text>
<text x="744.0" y="625.4" textLength="187.2" lengthAdjust="spacingAndGlyphs">::ENGINE::InGate *, bool &gt; &gt;</text>
<text x="469.0" y="755.1" text-anchor="middle" textLength="171.5" lengthAdjust="spacingAndGlyphs">static const unsigned char</text>
<text x="96.2" y="893.6" text-anchor="middle" textLength="107.8" lengthAdjust="spacingAndGlyphs">static const char</text>
<text x="837.0" y="889.1" text-anchor="middle" textLength="136.0" lengthAdjust="spacingAndGlyphs">list&lt; std::pair&lt; YACS</text>
<text x="837.0" y="904.1" text-anchor="middle" textLength="136.7" lengthAdjust="spacingAndGlyphs">::ENGINE::OutGate *,</text>
<text x="837.0" y="919.1" text-anchor="middle" textLength="57.8" lengthAdjust="spacingAndGlyphs">bool &gt; &gt;</text>
<text x="1564.5" y="778.4" text-anchor="middle" textLength="135.1" lengthAdjust="spacingAndGlyphs">set&lt; YACS::ENGINE::</text>
<text x="1564.5" y="793.4" text-anchor="middle" textLength="85.0" lengthAdjust="spacingAndGlyphs">InputPort * &gt;</text>
<text x="469.0" y="151.2" text-anchor="middle" textLength="173.2" lengthAdjust="spacingAndGlyphs">YACS::ENGINE::RefCounter</text>
<text x="837.0" y="309.6" text-anchor="middle" textLength="163.3" lengthAdjust="spacingAndGlyphs">YACS::ENGINE::TypeCode</text>
<text x="469.0" y="433.6" text-anchor="middle" textLength="134.1" lengthAdjust="spacingAndGlyphs">YACS::ENGINE::Node</text>
<text x="837.0" y="558.6" text-anchor="middle" textLength="126.0" lengthAdjust="spacingAndGlyphs">YACS::ENGINE::Port</text>
<text x="1362.5" y="309.6" text-anchor="middle" textLength="125.0" lengthAdjust="spacingAndGlyphs">YACS::ENGINE::Any</text>
<text x="2227.0" y="408.6" text-anchor="middle" textLength="193.0" lengthAdjust="spacingAndGlyphs">YACS::ENGINE::InPropertyPort</text>
<text x="1564.2" y="473.4" text-anchor="middle" textLength="138.0" lengthAdjust="spacingAndGlyphs">YACS::ENGINE::InPort</text>
<text x="1175.8" y="523.1" text-anchor="middle" textLength="157.0" lengthAdjust="spacingAndGlyphs">YACS::ENGINE::DataPort</text>
<text x="1943.0" y="518.9" text-anchor="middle" textLength="159.6" lengthAdjust="spacingAndGlyphs">YACS::ENGINE::InputPort</text>
<text x="1175.5" y="587.1" text-anchor="middle" textLength="154.9" lengthAdjust="spacingAndGlyphs">YACS::ENGINE::OutGate</text>
<text x="469.0" y="704.6" text-anchor="middle" textLength="165.2" lengthAdjust="spacingAndGlyphs">YACS::ENGINE::Scheduler</text>
<text x="837.2" y="727.1" text-anchor="middle" textLength="203.0" lengthAdjust="spacingAndGlyphs">YACS::ENGINE::ComposedNode</text>
<text x="1175.8" y="796.6" text-anchor="middle" textLength="143.4" lengthAdjust="spacingAndGlyphs">YACS::ENGINE::InGate</text>
<text x="1564.5" y="625.6" text-anchor="middle" textLength="149.5" lengthAdjust="spacingAndGlyphs">YACS::ENGINE::OutPort</text>
<text x="1564.2" y="676.6" text-anchor="middle" textLength="186.7" lengthAdjust="spacingAndGlyphs">YACS::ENGINE::DataFlowPort</text>
<text x="1943.0" y="747.1" text-anchor="middle" textLength="171.1" lengthAdjust="spacingAndGlyphs">YACS::ENGINE::OutputPort</text>
<text x="2227.0" y="597.4" text-anchor="middle" textLength="182.5" lengthAdjust="spacingAndGlyphs">YACS::ENGINE::DataLinkInfo</text>
<text x="282.0" y="42.3" text-anchor="middle" textLength="27.0" lengthAdjust="spacingAndGlyphs">_cnt</text>
<text x="279.0" y="56.3" text-anchor="middle" textLength="58.6" lengthAdjust="spacingAndGlyphs">_totalCnt</text>
<text x="1019.0" y="58.3" text-anchor="middle" textLength="64.8" lengthAdjust="spacingAndGlyphs">_stringRef</text>
<text x="1363.0" y="108.3" text-anchor="middle" textLength="99.1" lengthAdjust="spacingAndGlyphs">_inPropertyPort</text>
<text x="280.0" y="188.3" text-anchor="middle" textLength="83.0" lengthAdjust="spacingAndGlyphs">_errorDetails</text>
<text x="279.0" y="203.3" text-anchor="middle" textLength="109.5" lengthAdjust="spacingAndGlyphs">_implementation</text>
<text x="279.0" y="218.3" text-anchor="middle" textLength="43.4" lengthAdjust="spacingAndGlyphs">_name</text>
<text x="647.0" y="192.3" text-anchor="middle" textLength="43.4" lengthAdjust="spacingAndGlyphs">_name</text>
<text x="280.0" y="263.3" text-anchor="middle" textLength="39.4" lengthAdjust="spacingAndGlyphs">_state</text>
<text x="647.0" y="280.3" text-anchor="middle" textLength="104.4" lengthAdjust="spacingAndGlyphs">KIND_STR_REPR</text>
<text x="1018.0" y="302.3" text-anchor="middle" textLength="35.5" lengthAdjust="spacingAndGlyphs">_type</text>
<text x="1759.0" y="271.3" text-anchor="middle" textLength="125.0" lengthAdjust="spacingAndGlyphs">_init_property_data</text>
<text x="1757.0" y="286.3" text-anchor="middle" textLength="97.9" lengthAdjust="spacingAndGlyphs">_property_data</text>
<text x="282.0" y="315.3" text-anchor="middle" textLength="89.6" lengthAdjust="spacingAndGlyphs">_propertyMap</text>
<text x="646.0" y="316.3" text-anchor="middle" textLength="34.1" lengthAdjust="spacingAndGlyphs">_kind</text>
<text x="1363.0" y="337.3" text-anchor="middle" textLength="30.2" lengthAdjust="spacingAndGlyphs">from</text>
<text x="1361.0" y="352.3" text-anchor="middle" textLength="13.0" lengthAdjust="spacingAndGlyphs">to</text>
<text x="1566.0" y="335.3" text-anchor="middle" textLength="62.7" lengthAdjust="spacingAndGlyphs">_initValue</text>
<text x="1018.0" y="350.3" text-anchor="middle" textLength="35.5" lengthAdjust="spacingAndGlyphs">_type</text>
<text x="280.0" y="376.3" text-anchor="middle" textLength="39.3" lengthAdjust="spacingAndGlyphs">idMap</text>
<text x="471.5" y="389.3" text-anchor="middle" textLength="99.8" lengthAdjust="spacingAndGlyphs">_eventReceiver</text>
<text x="281.0" y="420.3" text-anchor="middle" textLength="46.7" lengthAdjust="spacingAndGlyphs">_colour</text>
<text x="838.0" y="422.3" text-anchor="middle" textLength="58.9" lengthAdjust="spacingAndGlyphs">_outGate</text>
<text x="281.0" y="443.3" text-anchor="middle" textLength="63.4" lengthAdjust="spacingAndGlyphs">_modified</text>
<text x="279.0" y="458.3" text-anchor="middle" textLength="47.7" lengthAdjust="spacingAndGlyphs">_numId</text>
<text x="279.0" y="472.3" text-anchor="middle" textLength="36.2" lengthAdjust="spacingAndGlyphs">_total</text>
<text x="1363.0" y="454.3" text-anchor="middle" textLength="70.8" lengthAdjust="spacingAndGlyphs">_backLinks</text>
<text x="1944.0" y="455.3" text-anchor="middle" textLength="20.1" lengthAdjust="spacingAndGlyphs">inp</text>
<text x="839.0" y="474.3" text-anchor="middle" textLength="49.5" lengthAdjust="spacingAndGlyphs">_inGate</text>
<text x="648.0" y="494.3" text-anchor="middle" textLength="38.9" lengthAdjust="spacingAndGlyphs">_node</text>
<text x="281.0" y="522.3" text-anchor="middle" textLength="128.2" lengthAdjust="spacingAndGlyphs">SEP_CHAR_IN_PORT</text>
<text x="470.0" y="539.3" text-anchor="middle" textLength="18.4" lengthAdjust="spacingAndGlyphs">_id</text>
<text x="468.0" y="554.3" text-anchor="middle" textLength="36.2" lengthAdjust="spacingAndGlyphs">_total</text>
<text x="647.0" y="542.3" text-anchor="middle" textLength="45.7" lengthAdjust="spacingAndGlyphs">_father</text>
<text x="1759.0" y="550.3" text-anchor="middle" textLength="71.9" lengthAdjust="spacingAndGlyphs">_canBeNull</text>
<text x="1944.0" y="576.3" text-anchor="middle" textLength="55.8" lengthAdjust="spacingAndGlyphs">toDelete</text>
<text x="470.0" y="578.3" text-anchor="middle" textLength="38.0" lengthAdjust="spacingAndGlyphs">NAME</text>
<text x="1019.0" y="590.3" text-anchor="middle" textLength="84.4" lengthAdjust="spacingAndGlyphs">_setOfInGate</text>
<text x="2081.0" y="668.3" text-anchor="middle" textLength="29.5" lengthAdjust="spacingAndGlyphs">outp</text>
<text x="1177.0" y="687.3" text-anchor="middle" textLength="38.0" lengthAdjust="spacingAndGlyphs">NAME</text>
<text x="647.0" y="730.3" text-anchor="middle" textLength="73.2" lengthAdjust="spacingAndGlyphs">FED_DS_ST</text>
<text x="645.0" y="744.3" text-anchor="middle" textLength="48.4" lengthAdjust="spacingAndGlyphs">FED_ST</text>
<text x="644.0" y="759.3" text-anchor="middle" textLength="55.6" lengthAdjust="spacingAndGlyphs">FREE_ST</text>
<text x="1760.0" y="773.3" text-anchor="middle" textLength="100.6" lengthAdjust="spacingAndGlyphs">_setOfInputPort</text>
<text x="470.0" y="800.3" text-anchor="middle" textLength="150.1" lengthAdjust="spacingAndGlyphs">SEP_CHAR_BTW_LEVEL</text>
<text x="647.0" y="815.3" text-anchor="middle" textLength="38.0" lengthAdjust="spacingAndGlyphs">NAME</text>
<text x="1018.0" y="864.3" text-anchor="middle" textLength="70.8" lengthAdjust="spacingAndGlyphs">_backLinks</text>
<text x="647.0" y="904.3" text-anchor="middle" textLength="38.0" lengthAdjust="spacingAndGlyphs">NAME</text>
<text x="1019.0" y="956.3" text-anchor="middle" textLength="38.0" lengthAdjust="spacingAndGlyphs">NAME</text>
<text x="647.0" y="980.3" text-anchor="middle" textLength="38.0" lengthAdjust="spacingAndGlyphs">NAME</text>
<text x="838.0" y="1064.3" text-anchor="middle" textLength="38.0" lengthAdjust="spacingAndGlyphs">NAME</text>
<text x="1019.0" y="1126.3" text-anchor="middle" textLength="38.0" lengthAdjust="spacingAndGlyphs">NAME</text>
</svg></body></html>
